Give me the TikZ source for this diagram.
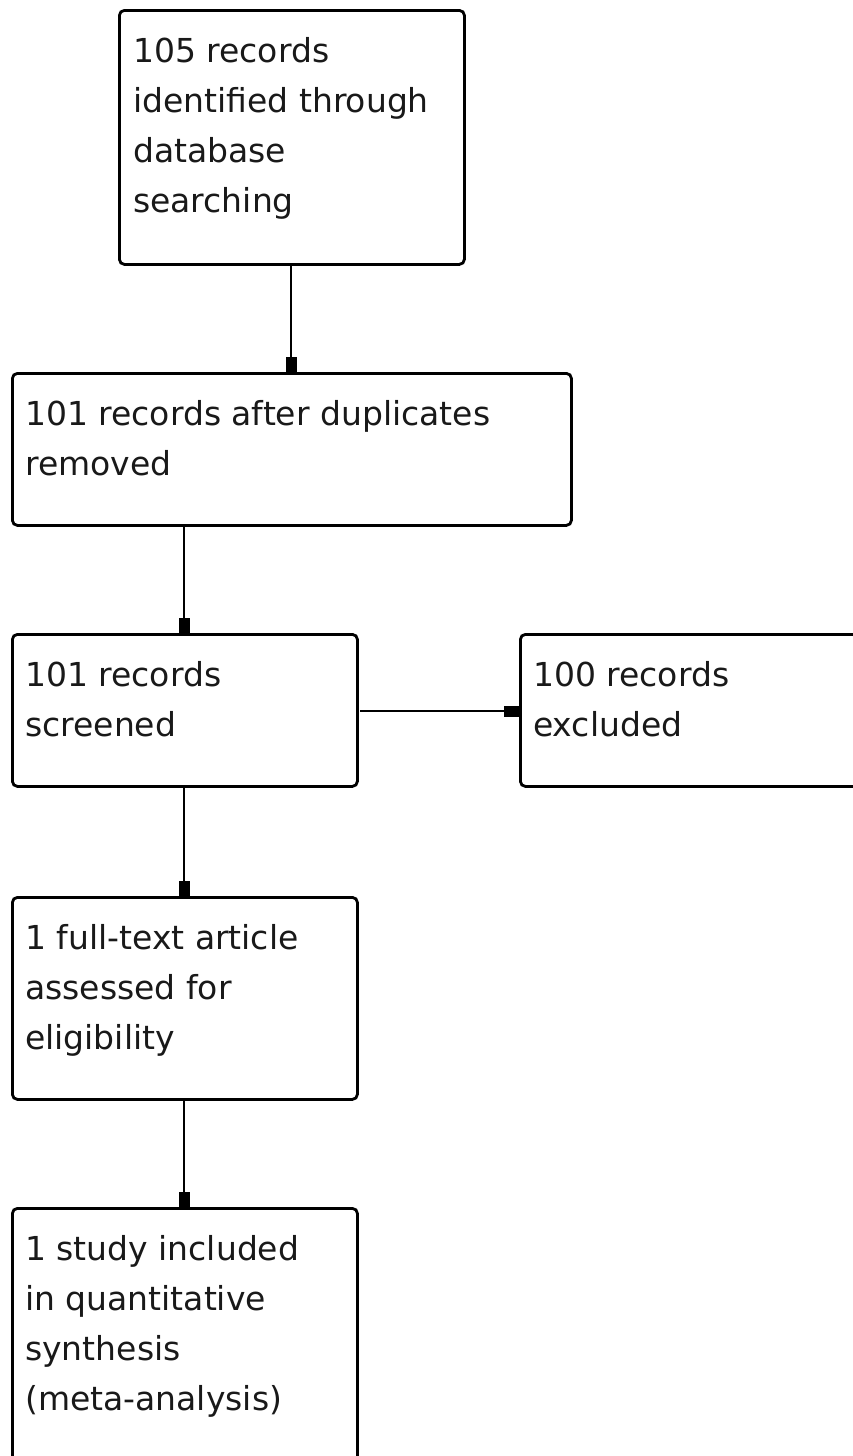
\documentclass[tikz,border=0pt]{standalone}
\usepackage{fontspec}
\setmainfont{DejaVu Sans}
\usetikzlibrary{arrows.meta}
\tikzset{
  box/.style={draw=black, line width=2.8pt, rounded corners=5pt, rectangle, inner sep=0pt, anchor=north west},
  txt/.style={anchor=north west, inner sep=0pt, align=left, font=\fontsize{33}{50}\selectfont, text=black!90},
  conn/.style={line width=2.4pt, -{Rectangle[length=15pt,width=11pt]}},
}
\begin{document}
\begin{tikzpicture}[x=1pt,y=-1pt]
\useasboundingbox (0,0) rectangle (853,1456);
\node[box, minimum width=345pt, minimum height=254pt] (b1) at (118,9) {};
\node[box, minimum width=559pt, minimum height=152pt] (b2) at (11,372) {};
\node[box, minimum width=345pt, minimum height=152pt] (b3) at (11,633) {};
\node[box, minimum width=380pt, minimum height=152pt] (b4) at (519,633) {};
\node[box, minimum width=345pt, minimum height=202pt] (b5) at (11,896) {};
\node[box, minimum width=345pt, minimum height=300pt] (b6) at (11,1207) {};

\node[txt] (t1) at (133,27) {\strut 105 records\\identified through\\database\\searching};
\node[txt] (t2) at (25,390) {\strut 101 records after duplicates\\removed};
\node[txt] (t3) at (25,651) {\strut 101 records\\screened};
\node[txt] (t4) at (533,651) {\strut 100 records\\excluded};
\node[txt] (t5) at (25,914) {\strut 1 full-text article\\assessed for\\eligibility};
\node[txt] (t6) at (25,1225) {\strut 1 study included\\in quantitative\\synthesis\\(meta-analysis)};

\coordinate (a1) at (291,263);
\coordinate (a2) at (184,524);
\coordinate (a3) at (184,785);
\coordinate (a5) at (184,1098);
\coordinate (a4) at (360,711);
\draw[conn] (a1) -- (a1 |- b2.north);
\draw[conn] (a2) -- (a2 |- b3.north);
\draw[conn] (a3) -- (a3 |- b5.north);
\draw[conn] (a5) -- (a5 |- b6.north);
\draw[conn] (a4) -- (a4 -| b4.west);
\end{tikzpicture}
\end{document}
